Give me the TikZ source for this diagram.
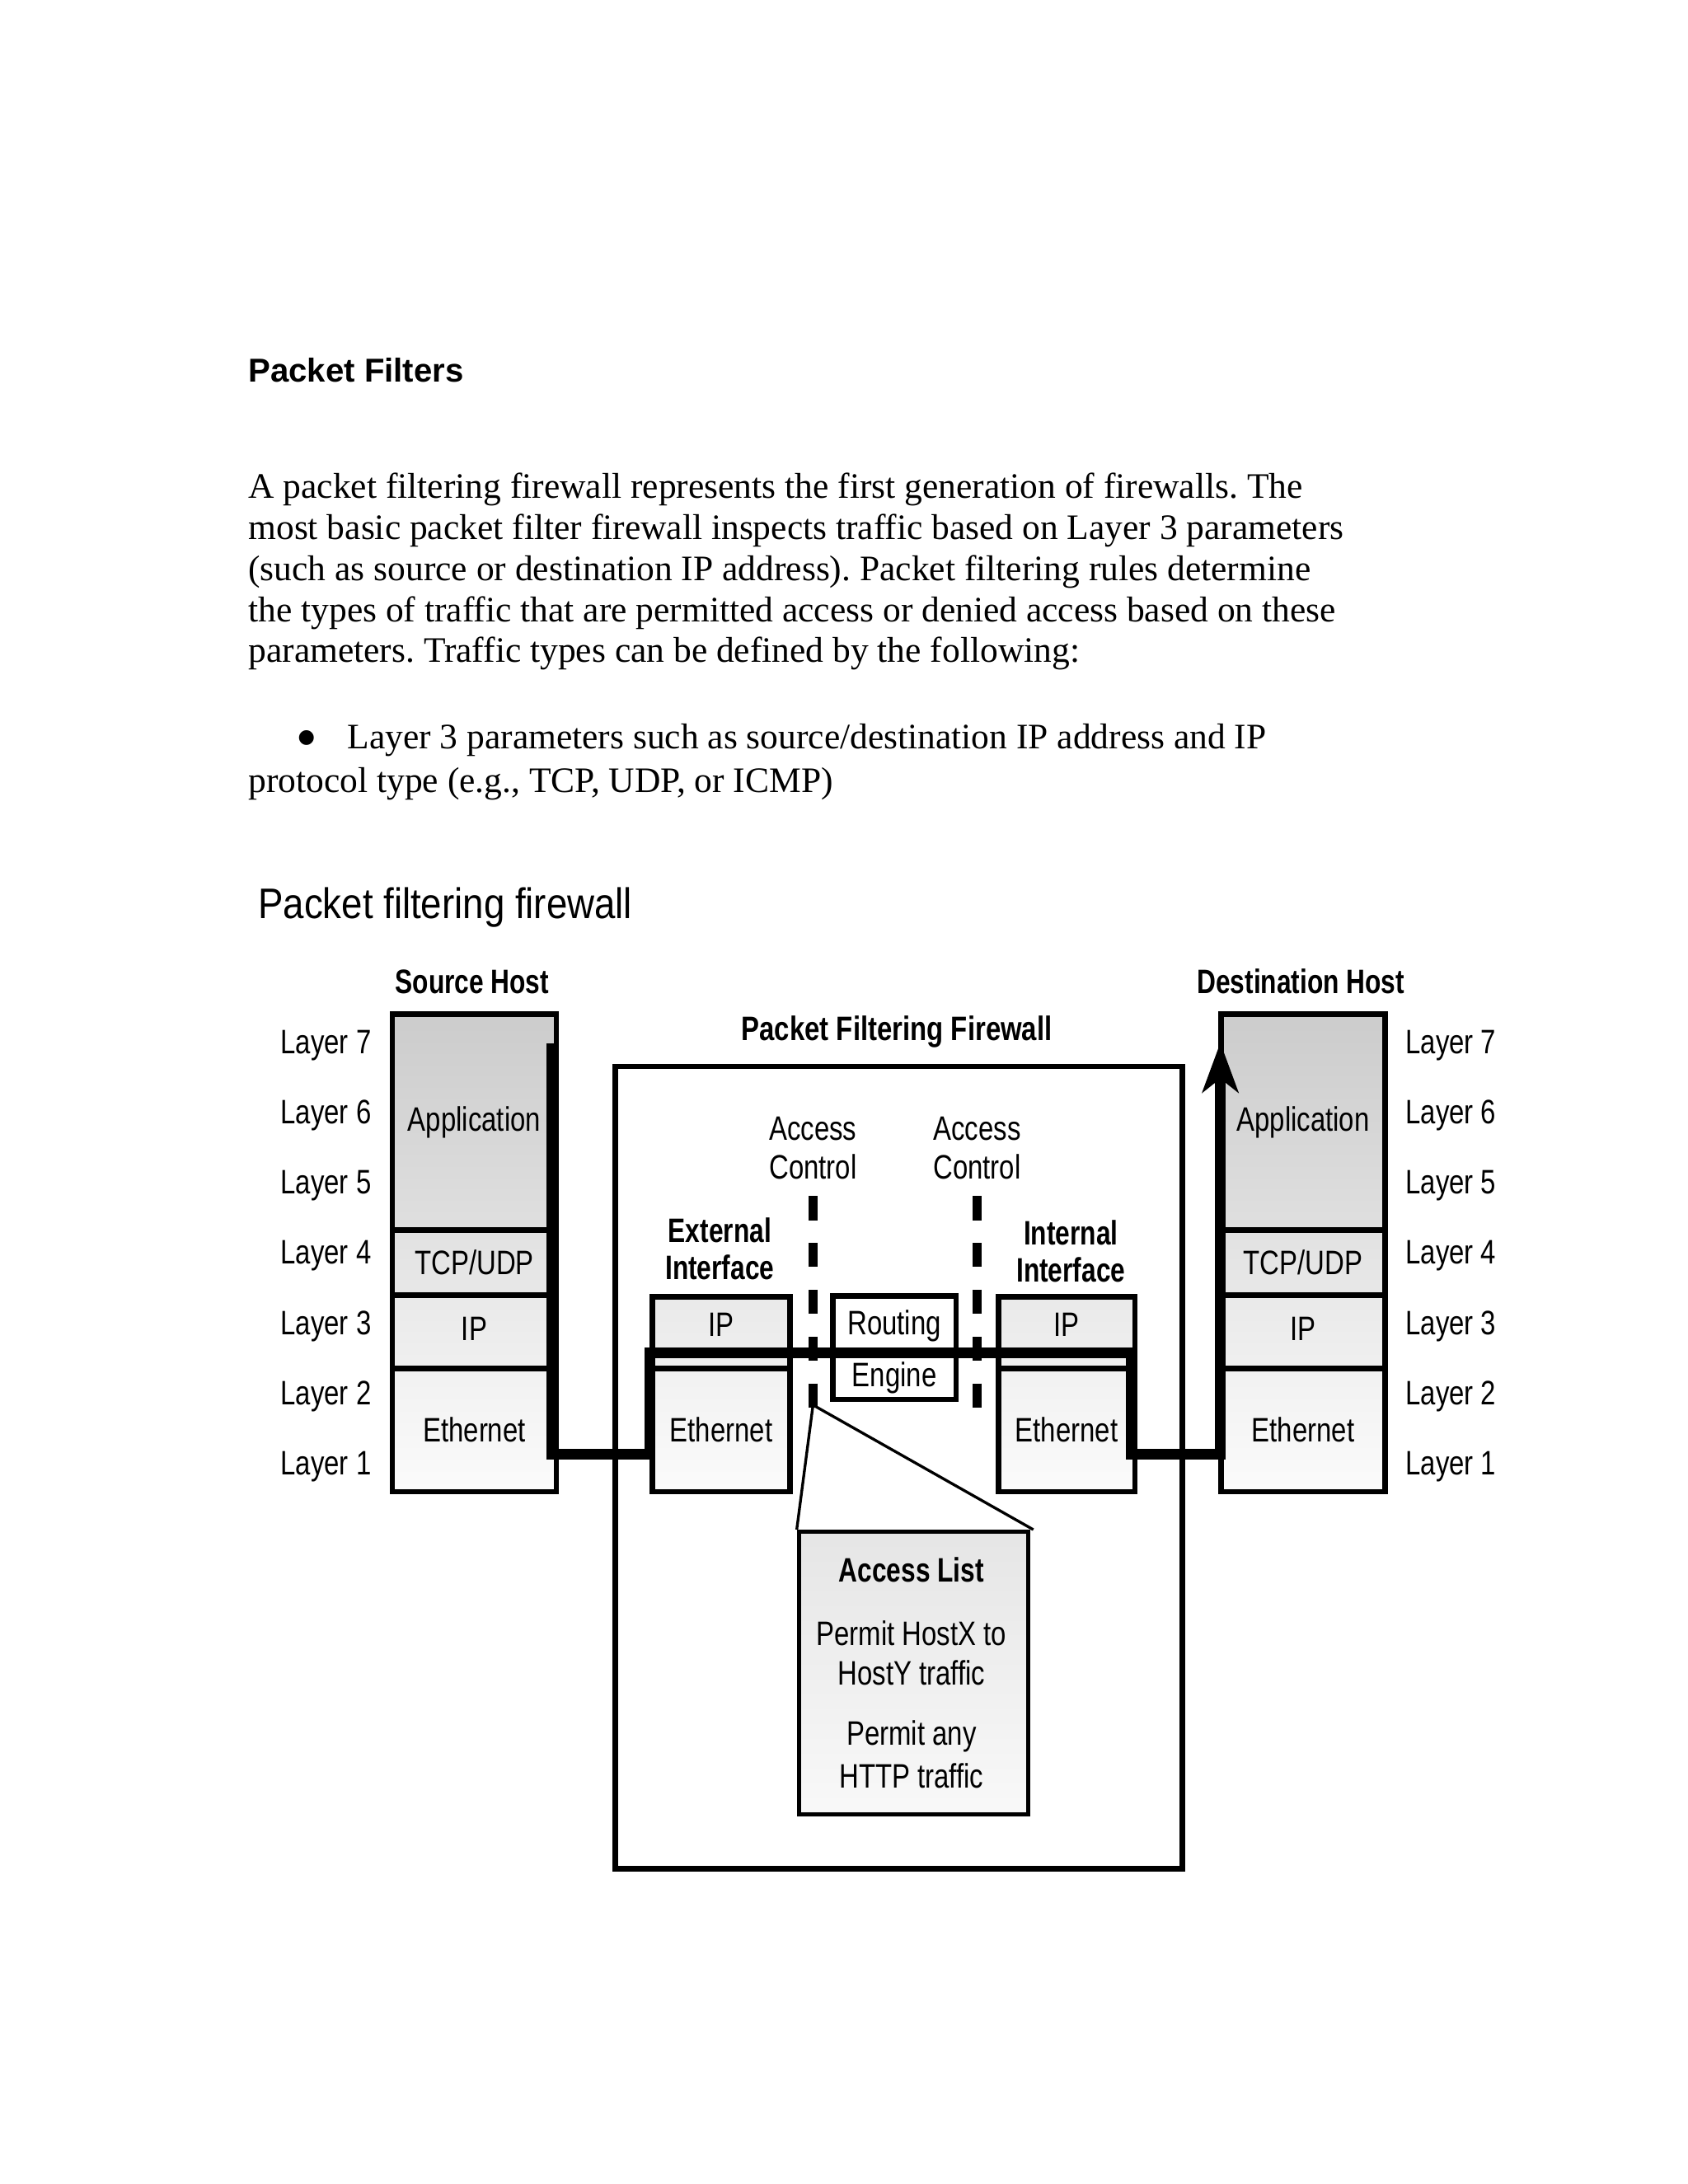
\documentclass[tikz,border=0pt]{standalone}
\usepackage{fontspec}
\setmainfont{Liberation Serif}
\newfontfamily\arialf{Liberation Sans}
\newfontfamily\dejavu{DejaVu Sans}
\newfontfamily\condf[FakeStretch=0.8]{Liberation Sans}
\newfontfamily\condbf[FakeStretch=0.77]{Liberation Sans}
\newfontfamily\condbw[FakeStretch=0.8]{Liberation Sans}
\newfontfamily\titlef[FakeStretch=0.88]{Liberation Sans}
\usetikzlibrary{arrows.meta}
\definecolor{appT}{gray}{0.80}
\definecolor{appB}{gray}{0.875}
\definecolor{tcpT}{gray}{0.885}
\definecolor{tcpB}{gray}{0.91}
\definecolor{ipT}{gray}{0.915}
\definecolor{ipB}{gray}{0.94}
\definecolor{ethT}{gray}{0.945}
\definecolor{ethB}{gray}{0.985}
\definecolor{aclT}{gray}{0.90}
\definecolor{aclB}{gray}{0.975}
\frenchspacing
\begin{document}
\begin{tikzpicture}[x=1pt,y=-1pt,
  body/.style={inner sep=0pt, anchor=base west, font=\fontsize{13}{15}\selectfont},
  lbl/.style={inner sep=0pt, font=\condf\fontsize{12.3}{14}\selectfont},
  hdr/.style={inner sep=0pt, font=\condbf\bfseries\fontsize{12.3}{14}\selectfont},
  sec/.style={draw, line width=2pt, inner sep=0pt, anchor=north west, font=\condf\fontsize{12.3}{14}\selectfont},
  flow/.style={line width=3.8pt, line join=miter},
  gate/.style={line width=3.4pt, dash pattern=on 8.8pt off 8.2pt},
  callout/.style={line width=1pt}
]
\fill[white] (0,0) rectangle (612,792);
\useasboundingbox (0,0) rectangle (612,792);

% ---------- text ----------
\node[body, font=\arialf\bfseries\fontsize{12}{14}\selectfont] (head) at (89.9,138.6) {Packet Filters};
\node[body] (p1) at (89.9,180.8) {A packet filtering firewall represents the first generation of firewalls. The};
\node[body] (p2) at (89.9,195.65) {most basic packet filter firewall inspects traffic based on Layer 3 parameters};
\node[body] (p3) at (89.9,210.5) {(such as source or destination IP address). Packet filtering rules determine};
\node[body] (p4) at (89.9,225.35) {the types of traffic that are permitted access or denied access based on these};
\node[body] (p5) at (89.9,240.2) {parameters. Traffic types can be defined by the following:};
\node[inner sep=0pt, font=\dejavu\fontsize{7}{8}\selectfont] (bul) at (111.1,267.5) {●};
\node[body] (b1) at (125.8,271.5) {Layer 3 parameters such as source/destination IP address and IP};
\node[body] (b2) at (89.9,287.3) {protocol type (e.g., TCP, UDP, or ICMP)};

% ---------- diagram titles ----------
\node[inner sep=0pt, anchor=base west, font=\titlef\fontsize{15.5}{18}\selectfont] (title) at (93.4,333.0) {Packet filtering firewall};
\node[hdr] (srch) at (171.2,356.0) {Source Host};
\node[hdr] (dsth) at (471.7,356.0) {Destination Host};
\node[hdr, font=\condbw\bfseries\fontsize{12.3}{14}\selectfont, anchor=base] (fwh) at (325.2,377.3) {Packet Filtering Firewall};

% ---------- layer labels ----------
\foreach \n/\y in {7/379.0,6/404.5,5/430.0,4/455.5,3/481.0,2/506.5,1/532.0}{
  \node[lbl, anchor=east] (L\n) at (134.8,\y) {Layer \n};
  \node[lbl, anchor=west] (R\n) at (509.5,\y) {Layer \n};
}

% ---------- firewall box ----------
\node[draw, line width=2pt, inner sep=0pt, anchor=north west, minimum width=205.5pt, minimum height=290.9pt] (fw) at (222.2,385.7) {};

% ---------- source host stack ----------
\node[sec, minimum width=59.5pt, minimum height=78.4pt, top color=appT, bottom color=appB] (sapp) at (141.25,366.7) {Application};
\node[sec, minimum width=59.5pt, minimum height=23.6pt, top color=tcpT, bottom color=tcpB] (stcp) at (141.25,445.1) {TCP/UDP};
\node[sec, minimum width=59.5pt, minimum height=26.6pt, top color=ipT, bottom color=ipB, text depth=2pt] (sip) at (141.25,468.7) {IP};
\node[sec, minimum width=59.5pt, minimum height=44.6pt, top color=ethT, bottom color=ethB] (seth) at (141.25,495.3) {Ethernet};

% ---------- destination host stack ----------
\node[sec, minimum width=59.5pt, minimum height=78.4pt, top color=appT, bottom color=appB] (dapp) at (441.75,366.7) {Application};
\node[sec, minimum width=59.5pt, minimum height=23.6pt, top color=tcpT, bottom color=tcpB] (dtcp) at (441.75,445.1) {TCP/UDP};
\node[sec, minimum width=59.5pt, minimum height=26.6pt, top color=ipT, bottom color=ipB, text depth=2pt] (dip) at (441.75,468.7) {IP};
\node[sec, minimum width=59.5pt, minimum height=44.6pt, top color=ethT, bottom color=ethB] (deth) at (441.75,495.3) {Ethernet};

% ---------- interfaces ----------
\node[sec, minimum width=50pt, minimum height=26.1pt, top color=ipT, bottom color=ipB, text depth=5.5pt] (eip) at (235.5,469.2) {IP};
\node[sec, minimum width=50pt, minimum height=44.6pt, top color=ethT, bottom color=ethB] (eeth) at (235.5,495.3) {Ethernet};
\node[sec, minimum width=49.5pt, minimum height=26.1pt, top color=ipT, bottom color=ipB, text depth=5.5pt] (iip) at (361,469.2) {IP};
\node[sec, minimum width=49.5pt, minimum height=44.6pt, top color=ethT, bottom color=ethB] (ieth) at (361,495.3) {Ethernet};
\node[hdr] (ext1) at (261,446.1) {External};
\node[hdr] (ext2) at (261,459.6) {Interface};
\node[hdr] (int1) at (388.3,447.1) {Internal};
\node[hdr] (int2) at (388.3,460.4) {Interface};

% ---------- routing engine ----------
\node[sec, minimum width=44.8pt, minimum height=21.7pt, fill=white] (rout) at (300.9,468.9) {Routing};
\node[sec, minimum width=44.8pt, minimum height=15.9pt, fill=white] (eng) at (300.9,490.6) {Engine};

% ---------- access control ----------
\node[lbl] (ac1a) at (294.8,409.2) {Access};
\node[lbl] (ac1b) at (294.8,423.1) {Control};
\node[lbl] (ac2a) at (354.3,409.2) {Access};
\node[lbl] (ac2b) at (354.3,423.1) {Control};

% ---------- access list ----------
\node[draw, line width=1.5pt, inner sep=0pt, anchor=north west, minimum width=83.3pt, minimum height=102.4pt, top color=aclT, bottom color=aclB] (acl) at (288.9,554.7) {};
\node[hdr] (acl0) at (330.5,569.3) {Access List};
\node[lbl] (acl1) at (330.5,592.4) {Permit HostX to};
\node[lbl] (acl2) at (330.5,606.7) {HostY traffic};
\node[lbl] (acl3) at (330.5,629.8) {Permit any};
\node[lbl] (acl4) at (330.5,644.1) {HTTP traffic};

% ---------- flow path ----------
\coordinate (f0) at (200.0,378.5);
\coordinate (f1) at (200.0,527.3);
\coordinate (f2) at (235.5,527.3);
\coordinate (f3) at (235.5,490.6);
\coordinate (f4) at (410.0,490.6);
\coordinate (f5) at (410.0,527.3);
\coordinate (f6) at (442.5,527.3);
\coordinate (f7) at (442.5,378.1);
\draw[flow, -{Stealth[length=18pt,width=13pt,inset=5pt]}] (f0) -- (f1) -- (f2) -- (f3) -- (f4) -- (f5) -- (f6) -- (f7);

% ---------- gates ----------
\coordinate (g1t) at (294.8,433.7);
\coordinate (g1b) at (294.8,510.6);
\coordinate (g2t) at (354.3,433.7);
\coordinate (g2b) at (354.3,510.6);
\draw[gate] (g1t) -- (g1b);
\draw[gate] (g2t) -- (g2b);

% ---------- callout ----------
\coordinate (apex) at (294.8,509.5);
\draw[callout] (apex) -- (acl.north west);
\draw[callout] (apex) -- ([xshift=1pt]acl.north east);
\end{tikzpicture}
\end{document}
